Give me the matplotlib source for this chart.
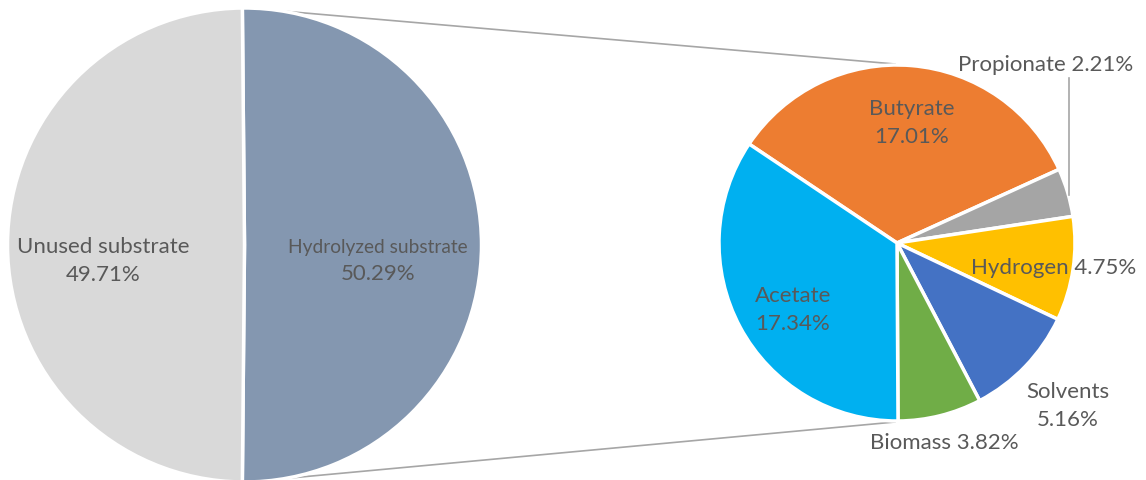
import matplotlib.pyplot as plt

# substrate split (left pie)
outer_labels = ["Hydrolyzed substrate", "Unused substrate"]
outer_values = [50.29, 49.71]
outer_colors = ["#8497B0", "#D9D9D9"]

# breakdown of the hydrolyzed part (right pie), clockwise from Butyrate
inner_labels = ["Butyrate", "Propionate", "Hydrogen", "Solvents", "Biomass", "Acetate"]
inner_values = [17.01, 2.21, 4.75, 5.16, 3.82, 17.34]
inner_colors = ["#ED7D31", "#A5A5A5", "#FFC000", "#4472C4", "#70AD47", "#00B0F0"]

W, H = 1146, 480
plt.rcParams['font.family'] = ['Lato', 'DejaVu Sans']
fig = plt.figure(figsize=(W / 100, H / 100), dpi=100)
ax = fig.add_axes([0, 0, 1, 1])
txt = "#595959"

# left pie, hydrolyzed half centred on the right side
lc, lr = (244.5, H - 245), 237
ax.pie(outer_values, colors=outer_colors, center=lc, radius=lr,
       startangle=90 + (360 * outer_values[0] / sum(outer_values) - 180) / 2,
       counterclock=False, wedgeprops=dict(edgecolor="white", linewidth=2.5))

# right pie
rc, rr = (897, H - 243), 178
ax.pie(inner_values, colors=inner_colors, center=rc, radius=rr,
       startangle=146.2, counterclock=False,
       wedgeprops=dict(edgecolor="white", linewidth=2.5))

# connector lines between the two pies
ax.plot([247, rc[0] - 2], [H - 8, rc[1] + rr + 1], color="#A6A6A6", lw=1.2, zorder=0)
ax.plot([247, rc[0] - 2], [H - 482, rc[1] - rr - 1], color="#A6A6A6", lw=1.2, zorder=0)

fs = 16
def lab(x, y, s, size=fs):
    ax.text(x, H - y, s, ha="center", va="center", color=txt, fontsize=size,
            linespacing=1.55)

lab(103, 261, f"{outer_labels[1]}\n{outer_values[1]:.2f}%")
lab(378, 247, outer_labels[0], size=13.8)
lab(378, 274, f"{outer_values[0]:.2f}%")

lab(912, 123, f"{inner_labels[0]}\n{inner_values[0]:.2f}%")
lab(1046, 65, f"{inner_labels[1]} {inner_values[1]:.2f}%")
lab(1054, 268, f"{inner_labels[2]} {inner_values[2]:.2f}%")
lab(1068, 406, f"{inner_labels[3]}\n{inner_values[3]:.2f}%")
lab(944, 443, f"{inner_labels[4]} {inner_values[4]:.2f}%")
lab(793, 310, f"{inner_labels[5]}\n{inner_values[5]:.2f}%")

# leader line for the small Propionate slice
ax.plot([1069, 1069], [H - 78, H - 195], color="#A6A6A6", lw=1.2)

ax.set_xlim(0, W)
ax.set_ylim(0, H)
ax.set_aspect("equal")
ax.axis("off")

fig.savefig("out.png", dpi=100)
